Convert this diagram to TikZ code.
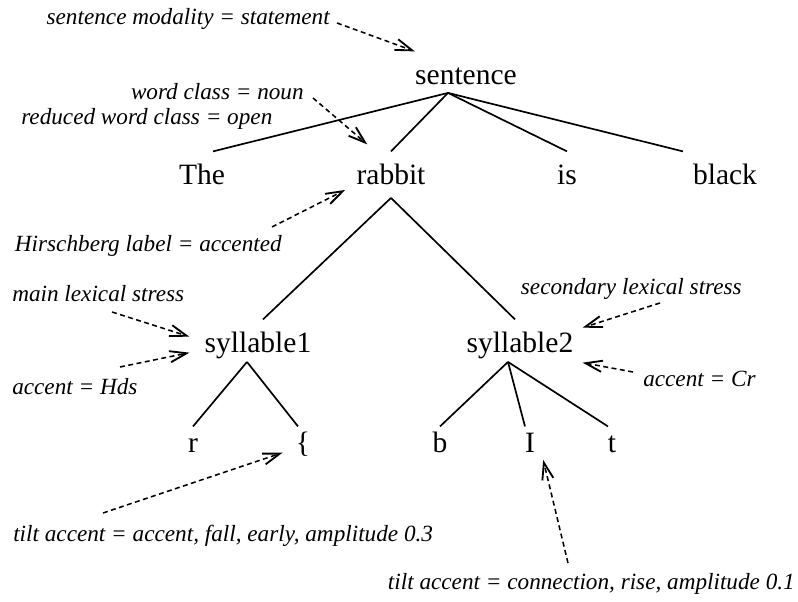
\documentclass[tikz,border=0pt]{standalone}
\usepackage{fontspec}
\setmainfont{Liberation Serif}
\usepackage{tikz}
\usetikzlibrary{arrows.meta, calc}
\tikzstyle{word} = [inner xsep=0pt, inner ysep=9pt, text height=14.7pt, text depth=0pt,
  anchor=base, font=\fontsize{21}{24}\selectfont]
\tikzstyle{leaf} = [word, inner ysep=4pt]
\tikzstyle{note} = [inner sep=0pt, font=\fontsize{16.5}{19}\selectfont\itshape]
\tikzstyle{branch} = [line width=1.2pt]
\tikzstyle{pointer} = [line width=1.1pt, dash pattern=on 3.5pt off 2.5pt,
  -{Straight Barb[length=12pt, width=8pt, line width=1.3pt]}]

\begin{document}
\begin{tikzpicture}[x=0.025cm, y=-0.025cm]
    \useasboundingbox (0,0) rectangle (798,602);
    % tree
    \node[word] (sent) at (466,85) {sentence};
    \node[word] (the) at (202,185) {The};
    \node[word] (rabbit) at (391,185) {rabbit};
    \node[word] (is) at (567,185) {is};
    \node[word] (black) at (725,185) {black};
    \node[word] (syllA) at (258,353) {syllable1};
    \node[word] (syllB) at (520,353) {syllable2};
    \node[leaf] (r) at (193,453) {r};
    \node[leaf] (brace) at (303,453) {\{};
    \node[leaf] (b) at (440,453) {b};
    \node[leaf] (i) at (530,453) {I};
    \node[leaf] (t) at (612,453) {t};
    \draw[branch] ($(sent.south)+(-18,-5)$) -- ($(the.north)+(11,0)$);
    \draw[branch] ($(sent.south)+(-18,-5)$) -- (rabbit.north);
    \draw[branch] ($(sent.south)+(-18,-5)$) -- (is.north);
    \draw[branch] ($(sent.south)+(-18,-5)$) -- ($(black.north)+(-42,0)$);
    \draw[branch] (rabbit.south) -- ($(syllA.north)+(5,0)$);
    \draw[branch] (rabbit.south) -- ($(syllB.north)+(-5,0)$);
    \draw[branch] ($(syllA.south)+(-11,-4)$) -- (r.north);
    \draw[branch] ($(syllA.south)+(-11,-4)$) -- ($(brace.north)+(-5,0)$);
    \draw[branch] ($(syllB.south)+(-12,-4)$) -- (b.north);
    \draw[branch] ($(syllB.south)+(-12,-4)$) -- ($(i.north)+(-5,0)$);
    \draw[branch] ($(syllB.south)+(-12,-4)$) -- ($(t.north)+(-4,0)$);
    % annotations
    \node[note, anchor=base east] (modal) at (330,25) {sentence modality = statement};
    \node[note, anchor=base east] (wclass) at (304,100) {word class = noun};
    \node[note, anchor=base west] (rclass) at (21,125) {reduced word class = open};
    \node[note, anchor=base east] (hirsch) at (282,252) {Hirschberg label = accented};
    \node[note, anchor=base west] (mainst) at (12,302) {main lexical stress};
    \node[note, anchor=base west] (hds) at (12,395) {accent = Hds};
    \node[note, anchor=base east] (secst) at (742,295) {secondary lexical stress};
    \node[note, anchor=base west] (cr) at (643,387) {accent = Cr};
    \node[note, anchor=base west] (fall) at (13,542) {tilt accent = accent, fall, early, amplitude 0.3};
    \node[note, anchor=base east] (rise) at (795,590) {tilt accent = connection, rise, amplitude 0.1};
    \draw[pointer] ($(modal.base east)+(7,-2)$) -- (sent.north west);
    \draw[pointer] ($(wclass.base east)+(9,-2)$) -- ($(rabbit.north west)+(11,-7)$);
    \draw[pointer] ($(hirsch.base east)+(-10,-25)$) -- ($(rabbit.south west)+(-11,-8)$);
    \draw[pointer] ($(mainst.base west)+(100,10)$) -- ($(syllA.west)+(-15,-6)$);
    \draw[pointer] ($(hds.base west)+(108,-28)$) -- ($(syllA.west)+(-15,10)$);
    \draw[pointer] ($(secst.base east)+(-82,8)$) -- ($(syllB.east)+(9,-15)$);
    \draw[pointer] ($(cr.base west)+(-10,-15)$) -- ($(syllB.east)+(9,20)$);
    \draw[pointer] ($(fall.base west)+(90,-29)$) -- ($(brace.west)+(-13,10)$);
    \draw[pointer] ($(rise.base east)+(-227,-27)$) -- ($(i.south east)+(8,1)$);
  \end{tikzpicture}
\end{document}
